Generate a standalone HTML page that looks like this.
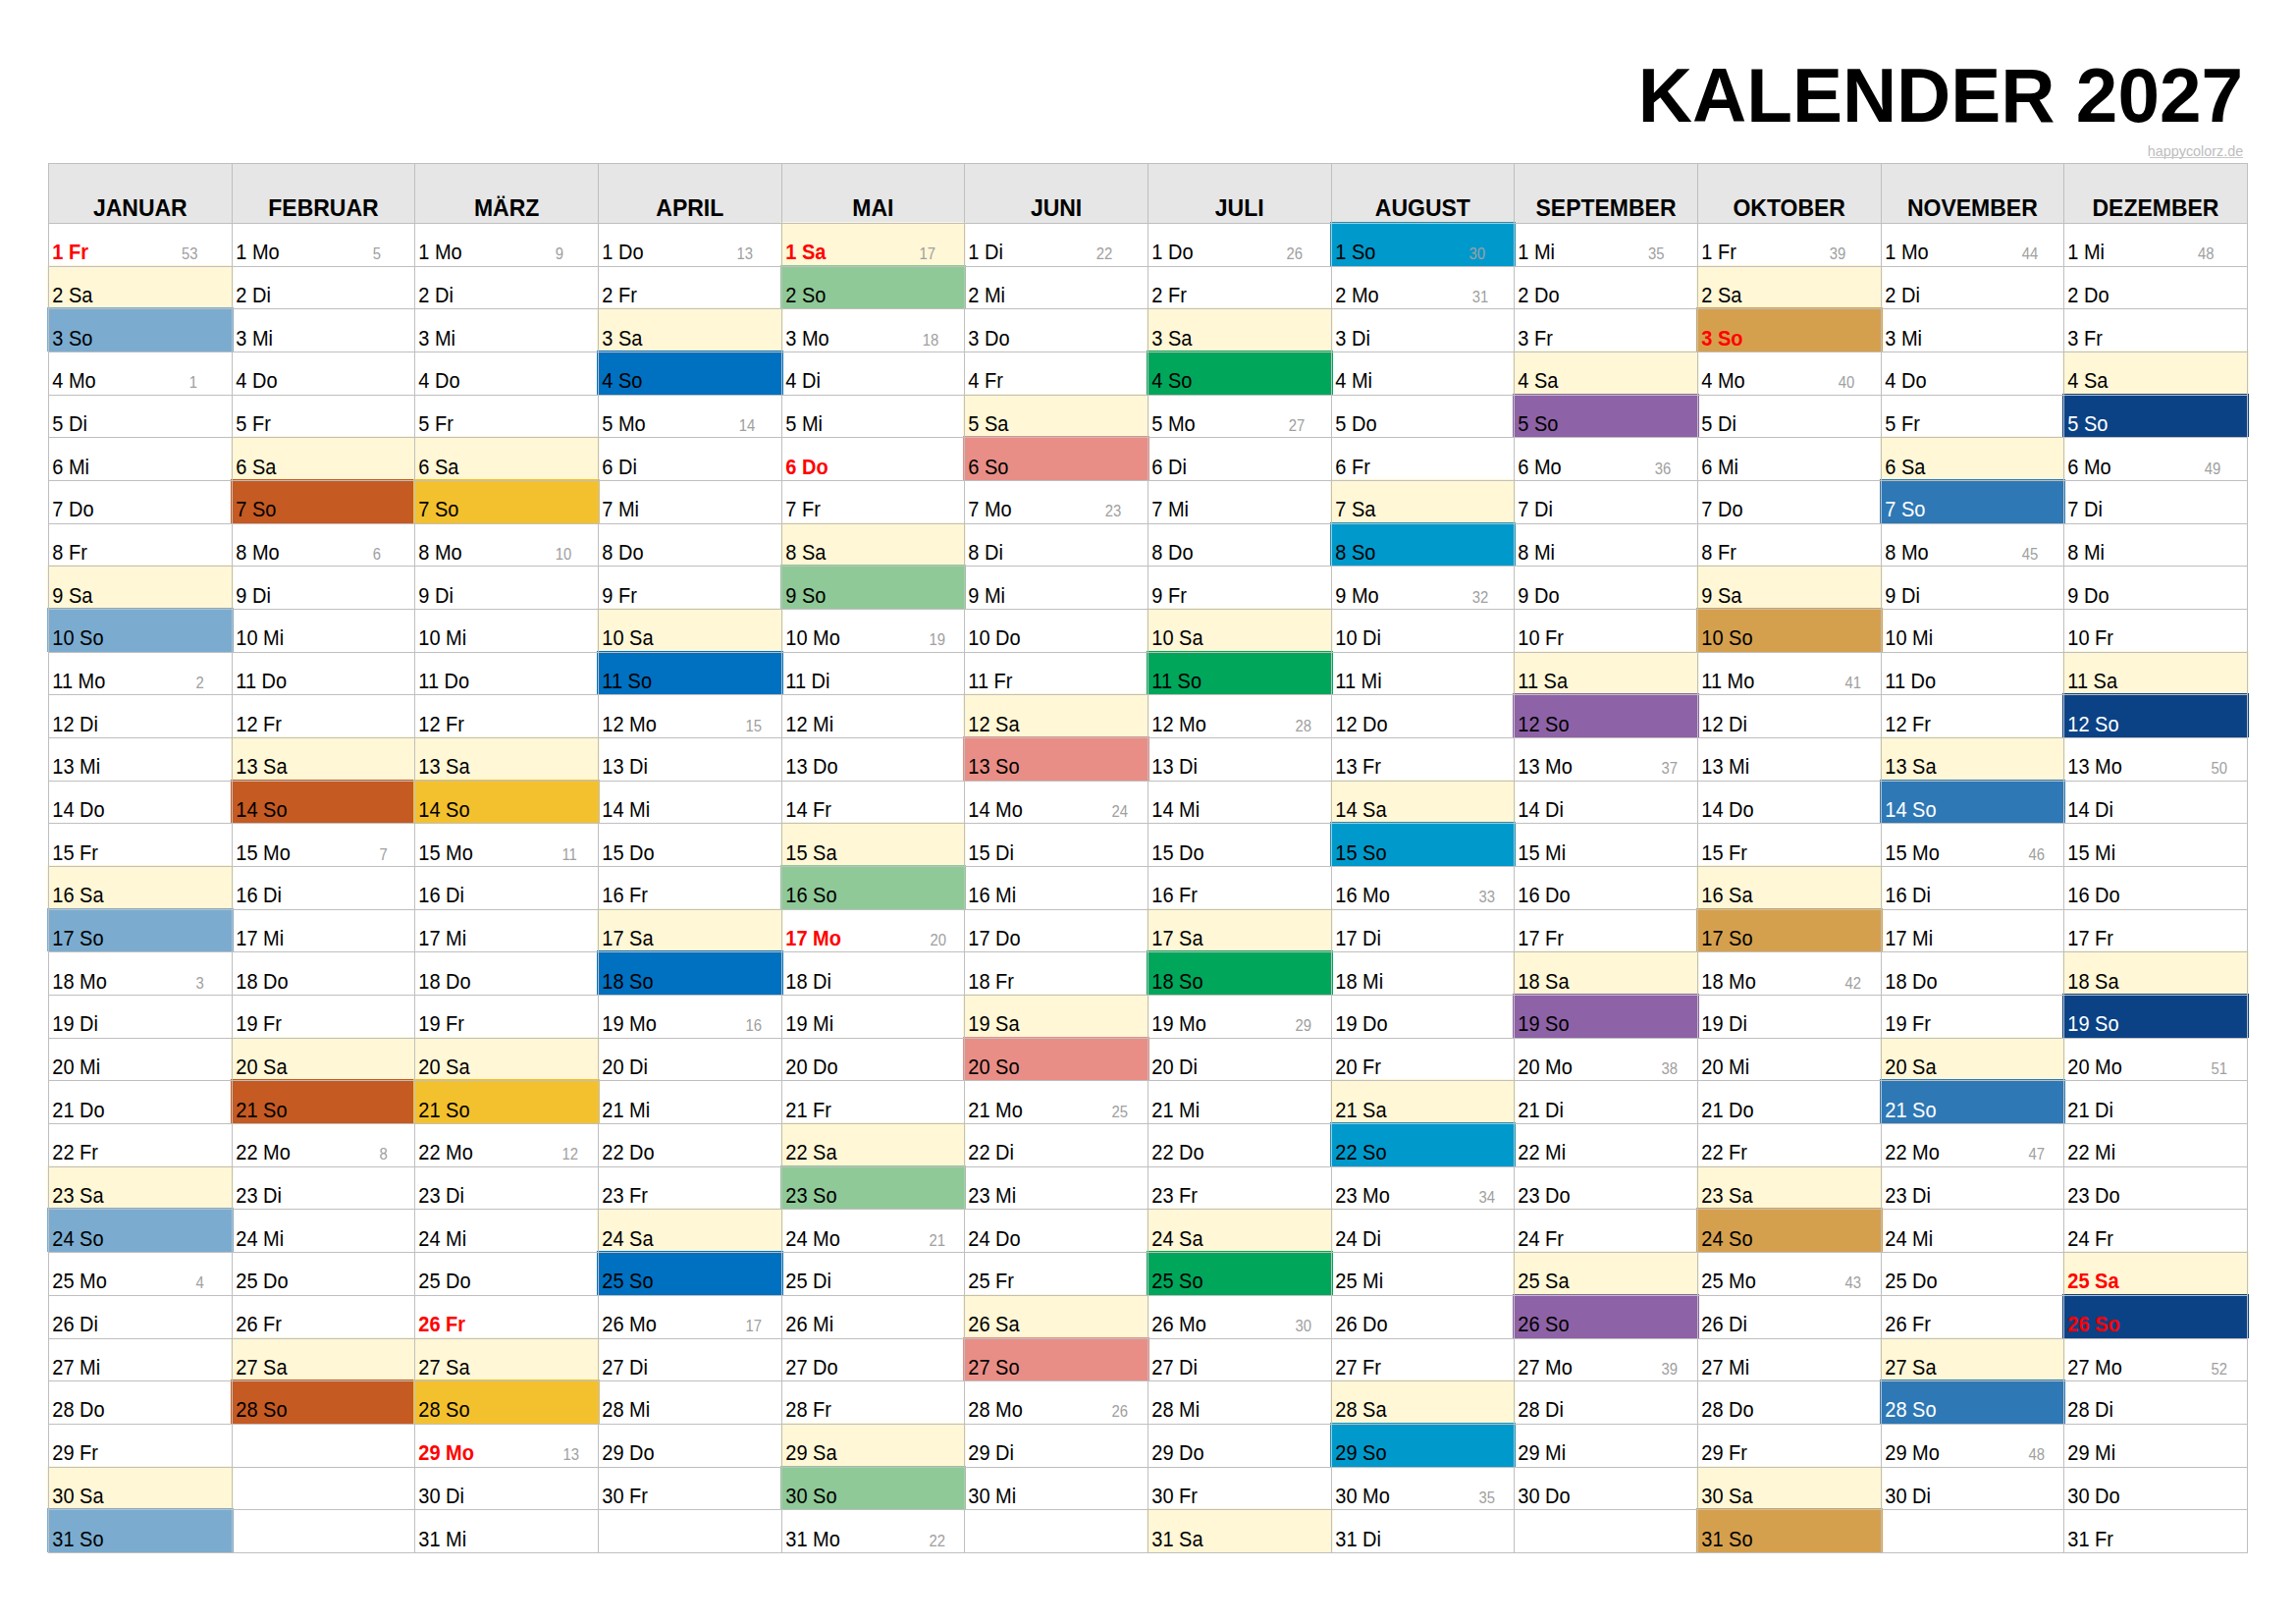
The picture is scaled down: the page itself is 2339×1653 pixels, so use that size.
<!DOCTYPE html><html><head><meta charset="utf-8"><style>html,body{margin:0;padding:0;background:#fff;width:2339px;height:1653px;overflow:hidden}svg{display:block}text{font-family:"Liberation Sans",sans-serif}</style></head><body><svg shape-rendering="crispEdges" width="2339" height="1653" viewBox="0 0 2339 1653"><text transform="translate(2285,123.8) scale(1,1.02)" text-anchor="end" font-weight="bold" font-size="76.5" fill="#000">KALENDER 2027</text><text x="2285.3" y="158.6" text-anchor="end" font-size="14.4" fill="#bdbdbd">happycolorz.de</text><rect x="2189.5" y="160" width="95.8" height="1" fill="#c8c8c8"/><rect x="49.5" y="166" width="2239.8" height="61.4" fill="#e6e6e6"/><rect x="48" y="270" width="190" height="44" fill="#fff7d6"/><rect x="48" y="313" width="190" height="45" fill="#7bacd0"/><rect x="48" y="575" width="190" height="45" fill="#fff7d6"/><rect x="48" y="619" width="190" height="45" fill="#7bacd0"/><rect x="48" y="881" width="190" height="45" fill="#fff7d6"/><rect x="48" y="925" width="190" height="44" fill="#7bacd0"/><rect x="48" y="1187" width="190" height="44" fill="#fff7d6"/><rect x="48" y="1230" width="190" height="45" fill="#7bacd0"/><rect x="48" y="1493" width="190" height="44" fill="#fff7d6"/><rect x="48" y="1536" width="190" height="45" fill="#7bacd0"/><rect x="235" y="444" width="189" height="45" fill="#fff7d6"/><rect x="235" y="488" width="189" height="45" fill="#c55a22"/><rect x="235" y="750" width="189" height="45" fill="#fff7d6"/><rect x="235" y="794" width="189" height="44" fill="#c55a22"/><rect x="235" y="1056" width="189" height="44" fill="#fff7d6"/><rect x="235" y="1099" width="189" height="45" fill="#c55a22"/><rect x="235" y="1362" width="189" height="44" fill="#fff7d6"/><rect x="235" y="1405" width="189" height="45" fill="#c55a22"/><rect x="421" y="444" width="190" height="45" fill="#fff7d6"/><rect x="421" y="488" width="190" height="45" fill="#f4c12e"/><rect x="421" y="750" width="190" height="45" fill="#fff7d6"/><rect x="421" y="794" width="190" height="44" fill="#f4c12e"/><rect x="421" y="1056" width="190" height="44" fill="#fff7d6"/><rect x="421" y="1099" width="190" height="45" fill="#f4c12e"/><rect x="421" y="1362" width="190" height="44" fill="#fff7d6"/><rect x="421" y="1405" width="190" height="45" fill="#f4c12e"/><rect x="608" y="313" width="190" height="45" fill="#fff7d6"/><rect x="608" y="357" width="190" height="45" fill="#0070c0"/><rect x="608" y="619" width="190" height="45" fill="#fff7d6"/><rect x="608" y="663" width="190" height="44" fill="#0070c0"/><rect x="608" y="925" width="190" height="44" fill="#fff7d6"/><rect x="608" y="968" width="190" height="45" fill="#0070c0"/><rect x="608" y="1230" width="190" height="45" fill="#fff7d6"/><rect x="608" y="1274" width="190" height="45" fill="#0070c0"/><rect x="795" y="226" width="189" height="45" fill="#fff7d6"/><rect x="795" y="270" width="189" height="44" fill="#8fc998"/><rect x="795" y="532" width="189" height="44" fill="#fff7d6"/><rect x="795" y="575" width="189" height="45" fill="#8fc998"/><rect x="795" y="837" width="189" height="45" fill="#fff7d6"/><rect x="795" y="881" width="189" height="45" fill="#8fc998"/><rect x="795" y="1143" width="189" height="45" fill="#fff7d6"/><rect x="795" y="1187" width="189" height="44" fill="#8fc998"/><rect x="795" y="1449" width="189" height="45" fill="#fff7d6"/><rect x="795" y="1493" width="189" height="44" fill="#8fc998"/><rect x="981" y="401" width="190" height="44" fill="#fff7d6"/><rect x="981" y="444" width="190" height="45" fill="#e88e87"/><rect x="981" y="706" width="190" height="45" fill="#fff7d6"/><rect x="981" y="750" width="190" height="45" fill="#e88e87"/><rect x="981" y="1012" width="190" height="45" fill="#fff7d6"/><rect x="981" y="1056" width="190" height="44" fill="#e88e87"/><rect x="981" y="1318" width="190" height="45" fill="#fff7d6"/><rect x="981" y="1362" width="190" height="44" fill="#e88e87"/><rect x="1168" y="313" width="190" height="45" fill="#fff7d6"/><rect x="1168" y="357" width="190" height="45" fill="#00a65a"/><rect x="1168" y="619" width="190" height="45" fill="#fff7d6"/><rect x="1168" y="663" width="190" height="44" fill="#00a65a"/><rect x="1168" y="925" width="190" height="44" fill="#fff7d6"/><rect x="1168" y="968" width="190" height="45" fill="#00a65a"/><rect x="1168" y="1230" width="190" height="45" fill="#fff7d6"/><rect x="1168" y="1274" width="190" height="45" fill="#00a65a"/><rect x="1168" y="1536" width="190" height="45" fill="#fff7d6"/><rect x="1355" y="226" width="189" height="45" fill="#0099cc"/><rect x="1355" y="488" width="189" height="45" fill="#fff7d6"/><rect x="1355" y="532" width="189" height="44" fill="#0099cc"/><rect x="1355" y="794" width="189" height="44" fill="#fff7d6"/><rect x="1355" y="837" width="189" height="45" fill="#0099cc"/><rect x="1355" y="1099" width="189" height="45" fill="#fff7d6"/><rect x="1355" y="1143" width="189" height="45" fill="#0099cc"/><rect x="1355" y="1405" width="189" height="45" fill="#fff7d6"/><rect x="1355" y="1449" width="189" height="45" fill="#0099cc"/><rect x="1541" y="357" width="190" height="45" fill="#fff7d6"/><rect x="1541" y="401" width="190" height="44" fill="#8e62a7"/><rect x="1541" y="663" width="190" height="44" fill="#fff7d6"/><rect x="1541" y="706" width="190" height="45" fill="#8e62a7"/><rect x="1541" y="968" width="190" height="45" fill="#fff7d6"/><rect x="1541" y="1012" width="190" height="45" fill="#8e62a7"/><rect x="1541" y="1274" width="190" height="45" fill="#fff7d6"/><rect x="1541" y="1318" width="190" height="45" fill="#8e62a7"/><rect x="1728" y="270" width="190" height="44" fill="#fff7d6"/><rect x="1728" y="313" width="190" height="45" fill="#d5a04e"/><rect x="1728" y="575" width="190" height="45" fill="#fff7d6"/><rect x="1728" y="619" width="190" height="45" fill="#d5a04e"/><rect x="1728" y="881" width="190" height="45" fill="#fff7d6"/><rect x="1728" y="925" width="190" height="44" fill="#d5a04e"/><rect x="1728" y="1187" width="190" height="44" fill="#fff7d6"/><rect x="1728" y="1230" width="190" height="45" fill="#d5a04e"/><rect x="1728" y="1493" width="190" height="44" fill="#fff7d6"/><rect x="1728" y="1536" width="190" height="45" fill="#d5a04e"/><rect x="1915" y="444" width="189" height="45" fill="#fff7d6"/><rect x="1915" y="488" width="189" height="45" fill="#2e78b5"/><rect x="1915" y="750" width="189" height="45" fill="#fff7d6"/><rect x="1915" y="794" width="189" height="44" fill="#2e78b5"/><rect x="1915" y="1056" width="189" height="44" fill="#fff7d6"/><rect x="1915" y="1099" width="189" height="45" fill="#2e78b5"/><rect x="1915" y="1362" width="189" height="44" fill="#fff7d6"/><rect x="1915" y="1405" width="189" height="45" fill="#2e78b5"/><rect x="2101" y="357" width="190" height="45" fill="#fff7d6"/><rect x="2101" y="401" width="190" height="44" fill="#0b4286"/><rect x="2101" y="663" width="190" height="44" fill="#fff7d6"/><rect x="2101" y="706" width="190" height="45" fill="#0b4286"/><rect x="2101" y="968" width="190" height="45" fill="#fff7d6"/><rect x="2101" y="1012" width="190" height="45" fill="#0b4286"/><rect x="2101" y="1274" width="190" height="45" fill="#fff7d6"/><rect x="2101" y="1318" width="190" height="45" fill="#0b4286"/><g fill="#bfbfbf"><rect x="49" y="166" width="1" height="1416"/><rect x="236" y="166" width="1" height="1416"/><rect x="422" y="166" width="1" height="1416"/><rect x="609" y="166" width="1" height="1416"/><rect x="796" y="166" width="1" height="1416"/><rect x="982" y="166" width="1" height="1416"/><rect x="1169" y="166" width="1" height="1416"/><rect x="1356" y="166" width="1" height="1416"/><rect x="1542" y="166" width="1" height="1416"/><rect x="1729" y="166" width="1" height="1416"/><rect x="1916" y="166" width="1" height="1416"/><rect x="2102" y="166" width="1" height="1416"/><rect x="2289" y="166" width="1" height="1416"/><rect x="49" y="166" width="2241" height="1"/><rect x="49" y="227" width="2241" height="1"/><rect x="49" y="271" width="2241" height="1"/><rect x="49" y="314" width="2241" height="1"/><rect x="49" y="358" width="2241" height="1"/><rect x="49" y="402" width="2241" height="1"/><rect x="49" y="445" width="2241" height="1"/><rect x="49" y="489" width="2241" height="1"/><rect x="49" y="533" width="2241" height="1"/><rect x="49" y="576" width="2241" height="1"/><rect x="49" y="620" width="2241" height="1"/><rect x="49" y="664" width="2241" height="1"/><rect x="49" y="707" width="2241" height="1"/><rect x="49" y="751" width="2241" height="1"/><rect x="49" y="795" width="2241" height="1"/><rect x="49" y="838" width="2241" height="1"/><rect x="49" y="882" width="2241" height="1"/><rect x="49" y="926" width="2241" height="1"/><rect x="49" y="969" width="2241" height="1"/><rect x="49" y="1013" width="2241" height="1"/><rect x="49" y="1057" width="2241" height="1"/><rect x="49" y="1100" width="2241" height="1"/><rect x="49" y="1144" width="2241" height="1"/><rect x="49" y="1188" width="2241" height="1"/><rect x="49" y="1231" width="2241" height="1"/><rect x="49" y="1275" width="2241" height="1"/><rect x="49" y="1319" width="2241" height="1"/><rect x="49" y="1363" width="2241" height="1"/><rect x="49" y="1406" width="2241" height="1"/><rect x="49" y="1450" width="2241" height="1"/><rect x="49" y="1494" width="2241" height="1"/><rect x="49" y="1537" width="2241" height="1"/><rect x="49" y="1581" width="2241" height="1"/></g><text transform="translate(142.82,220) scale(1,1.07)" text-anchor="middle" font-weight="bold" font-size="23.0">JANUAR</text><text transform="translate(329.48,220) scale(1,1.07)" text-anchor="middle" font-weight="bold" font-size="23.0">FEBRUAR</text><text transform="translate(516.12,220) scale(1,1.07)" text-anchor="middle" font-weight="bold" font-size="23.0">MÄRZ</text><text transform="translate(702.78,220) scale(1,1.07)" text-anchor="middle" font-weight="bold" font-size="23.0">APRIL</text><text transform="translate(889.43,220) scale(1,1.07)" text-anchor="middle" font-weight="bold" font-size="23.0">MAI</text><text transform="translate(1076.08,220) scale(1,1.07)" text-anchor="middle" font-weight="bold" font-size="23.0">JUNI</text><text transform="translate(1262.73,220) scale(1,1.07)" text-anchor="middle" font-weight="bold" font-size="23.0">JULI</text><text transform="translate(1449.38,220) scale(1,1.07)" text-anchor="middle" font-weight="bold" font-size="23.0">AUGUST</text><text transform="translate(1636.03,220) scale(1,1.07)" text-anchor="middle" font-weight="bold" font-size="23.0">SEPTEMBER</text><text transform="translate(1822.68,220) scale(1,1.07)" text-anchor="middle" font-weight="bold" font-size="23.0">OKTOBER</text><text transform="translate(2009.33,220) scale(1,1.07)" text-anchor="middle" font-weight="bold" font-size="23.0">NOVEMBER</text><text transform="translate(2195.97,220) scale(1,1.07)" text-anchor="middle" font-weight="bold" font-size="23.0">DEZEMBER</text><text transform="translate(53.3,264.18) scale(1,1.08)" font-size="20.0" font-weight="bold" fill="#f00">1 Fr</text><text transform="translate(184.98,264.18) scale(0.9,1.0)" font-size="16.5" fill="#a0a0a0">53</text><text transform="translate(53.3,307.85) scale(1,1.08)" font-size="20.0">2 Sa</text><text transform="translate(53.3,351.53) scale(1,1.08)" font-size="20.0">3 So</text><text transform="translate(53.3,395.21) scale(1,1.08)" font-size="20.0">4 Mo</text><text transform="translate(192.76,395.21) scale(0.9,1.0)" font-size="16.5" fill="#a0a0a0">1</text><text transform="translate(53.3,438.89) scale(1,1.08)" font-size="20.0">5 Di</text><text transform="translate(53.3,482.56) scale(1,1.08)" font-size="20.0">6 Mi</text><text transform="translate(53.3,526.24) scale(1,1.08)" font-size="20.0">7 Do</text><text transform="translate(53.3,569.92) scale(1,1.08)" font-size="20.0">8 Fr</text><text transform="translate(53.3,613.6) scale(1,1.08)" font-size="20.0">9 Sa</text><text transform="translate(53.3,657.27) scale(1,1.08)" font-size="20.0">10 So</text><text transform="translate(53.3,700.95) scale(1,1.08)" font-size="20.0">11 Mo</text><text transform="translate(199.39,700.95) scale(0.9,1.0)" font-size="16.5" fill="#a0a0a0">2</text><text transform="translate(53.3,744.63) scale(1,1.08)" font-size="20.0">12 Di</text><text transform="translate(53.3,788.31) scale(1,1.08)" font-size="20.0">13 Mi</text><text transform="translate(53.3,831.98) scale(1,1.08)" font-size="20.0">14 Do</text><text transform="translate(53.3,875.66) scale(1,1.08)" font-size="20.0">15 Fr</text><text transform="translate(53.3,919.34) scale(1,1.08)" font-size="20.0">16 Sa</text><text transform="translate(53.3,963.02) scale(1,1.08)" font-size="20.0">17 So</text><text transform="translate(53.3,1006.69) scale(1,1.08)" font-size="20.0">18 Mo</text><text transform="translate(199.39,1006.69) scale(0.9,1.0)" font-size="16.5" fill="#a0a0a0">3</text><text transform="translate(53.3,1050.37) scale(1,1.08)" font-size="20.0">19 Di</text><text transform="translate(53.3,1094.05) scale(1,1.08)" font-size="20.0">20 Mi</text><text transform="translate(53.3,1137.73) scale(1,1.08)" font-size="20.0">21 Do</text><text transform="translate(53.3,1181.4) scale(1,1.08)" font-size="20.0">22 Fr</text><text transform="translate(53.3,1225.08) scale(1,1.08)" font-size="20.0">23 Sa</text><text transform="translate(53.3,1268.76) scale(1,1.08)" font-size="20.0">24 So</text><text transform="translate(53.3,1312.44) scale(1,1.08)" font-size="20.0">25 Mo</text><text transform="translate(199.39,1312.44) scale(0.9,1.0)" font-size="16.5" fill="#a0a0a0">4</text><text transform="translate(53.3,1356.11) scale(1,1.08)" font-size="20.0">26 Di</text><text transform="translate(53.3,1399.79) scale(1,1.08)" font-size="20.0">27 Mi</text><text transform="translate(53.3,1443.47) scale(1,1.08)" font-size="20.0">28 Do</text><text transform="translate(53.3,1487.15) scale(1,1.08)" font-size="20.0">29 Fr</text><text transform="translate(53.3,1530.82) scale(1,1.08)" font-size="20.0">30 Sa</text><text transform="translate(53.3,1574.5) scale(1,1.08)" font-size="20.0">31 So</text><text transform="translate(240.3,264.18) scale(1,1.08)" font-size="20.0">1 Mo</text><text transform="translate(379.76,264.18) scale(0.9,1.0)" font-size="16.5" fill="#a0a0a0">5</text><text transform="translate(240.3,307.85) scale(1,1.08)" font-size="20.0">2 Di</text><text transform="translate(240.3,351.53) scale(1,1.08)" font-size="20.0">3 Mi</text><text transform="translate(240.3,395.21) scale(1,1.08)" font-size="20.0">4 Do</text><text transform="translate(240.3,438.89) scale(1,1.08)" font-size="20.0">5 Fr</text><text transform="translate(240.3,482.56) scale(1,1.08)" font-size="20.0">6 Sa</text><text transform="translate(240.3,526.24) scale(1,1.08)" font-size="20.0">7 So</text><text transform="translate(240.3,569.92) scale(1,1.08)" font-size="20.0">8 Mo</text><text transform="translate(379.76,569.92) scale(0.9,1.0)" font-size="16.5" fill="#a0a0a0">6</text><text transform="translate(240.3,613.6) scale(1,1.08)" font-size="20.0">9 Di</text><text transform="translate(240.3,657.27) scale(1,1.08)" font-size="20.0">10 Mi</text><text transform="translate(240.3,700.95) scale(1,1.08)" font-size="20.0">11 Do</text><text transform="translate(240.3,744.63) scale(1,1.08)" font-size="20.0">12 Fr</text><text transform="translate(240.3,788.31) scale(1,1.08)" font-size="20.0">13 Sa</text><text transform="translate(240.3,831.98) scale(1,1.08)" font-size="20.0">14 So</text><text transform="translate(240.3,875.66) scale(1,1.08)" font-size="20.0">15 Mo</text><text transform="translate(386.39,875.66) scale(0.9,1.0)" font-size="16.5" fill="#a0a0a0">7</text><text transform="translate(240.3,919.34) scale(1,1.08)" font-size="20.0">16 Di</text><text transform="translate(240.3,963.02) scale(1,1.08)" font-size="20.0">17 Mi</text><text transform="translate(240.3,1006.69) scale(1,1.08)" font-size="20.0">18 Do</text><text transform="translate(240.3,1050.37) scale(1,1.08)" font-size="20.0">19 Fr</text><text transform="translate(240.3,1094.05) scale(1,1.08)" font-size="20.0">20 Sa</text><text transform="translate(240.3,1137.73) scale(1,1.08)" font-size="20.0">21 So</text><text transform="translate(240.3,1181.4) scale(1,1.08)" font-size="20.0">22 Mo</text><text transform="translate(386.39,1181.4) scale(0.9,1.0)" font-size="16.5" fill="#a0a0a0">8</text><text transform="translate(240.3,1225.08) scale(1,1.08)" font-size="20.0">23 Di</text><text transform="translate(240.3,1268.76) scale(1,1.08)" font-size="20.0">24 Mi</text><text transform="translate(240.3,1312.44) scale(1,1.08)" font-size="20.0">25 Do</text><text transform="translate(240.3,1356.11) scale(1,1.08)" font-size="20.0">26 Fr</text><text transform="translate(240.3,1399.79) scale(1,1.08)" font-size="20.0">27 Sa</text><text transform="translate(240.3,1443.47) scale(1,1.08)" font-size="20.0">28 So</text><text transform="translate(426.3,264.18) scale(1,1.08)" font-size="20.0">1 Mo</text><text transform="translate(565.76,264.18) scale(0.9,1.0)" font-size="16.5" fill="#a0a0a0">9</text><text transform="translate(426.3,307.85) scale(1,1.08)" font-size="20.0">2 Di</text><text transform="translate(426.3,351.53) scale(1,1.08)" font-size="20.0">3 Mi</text><text transform="translate(426.3,395.21) scale(1,1.08)" font-size="20.0">4 Do</text><text transform="translate(426.3,438.89) scale(1,1.08)" font-size="20.0">5 Fr</text><text transform="translate(426.3,482.56) scale(1,1.08)" font-size="20.0">6 Sa</text><text transform="translate(426.3,526.24) scale(1,1.08)" font-size="20.0">7 So</text><text transform="translate(426.3,569.92) scale(1,1.08)" font-size="20.0">8 Mo</text><text transform="translate(565.76,569.92) scale(0.9,1.0)" font-size="16.5" fill="#a0a0a0">10</text><text transform="translate(426.3,613.6) scale(1,1.08)" font-size="20.0">9 Di</text><text transform="translate(426.3,657.27) scale(1,1.08)" font-size="20.0">10 Mi</text><text transform="translate(426.3,700.95) scale(1,1.08)" font-size="20.0">11 Do</text><text transform="translate(426.3,744.63) scale(1,1.08)" font-size="20.0">12 Fr</text><text transform="translate(426.3,788.31) scale(1,1.08)" font-size="20.0">13 Sa</text><text transform="translate(426.3,831.98) scale(1,1.08)" font-size="20.0">14 So</text><text transform="translate(426.3,875.66) scale(1,1.08)" font-size="20.0">15 Mo</text><text transform="translate(572.39,875.66) scale(0.9,1.0)" font-size="16.5" fill="#a0a0a0">11</text><text transform="translate(426.3,919.34) scale(1,1.08)" font-size="20.0">16 Di</text><text transform="translate(426.3,963.02) scale(1,1.08)" font-size="20.0">17 Mi</text><text transform="translate(426.3,1006.69) scale(1,1.08)" font-size="20.0">18 Do</text><text transform="translate(426.3,1050.37) scale(1,1.08)" font-size="20.0">19 Fr</text><text transform="translate(426.3,1094.05) scale(1,1.08)" font-size="20.0">20 Sa</text><text transform="translate(426.3,1137.73) scale(1,1.08)" font-size="20.0">21 So</text><text transform="translate(426.3,1181.4) scale(1,1.08)" font-size="20.0">22 Mo</text><text transform="translate(572.39,1181.4) scale(0.9,1.0)" font-size="16.5" fill="#a0a0a0">12</text><text transform="translate(426.3,1225.08) scale(1,1.08)" font-size="20.0">23 Di</text><text transform="translate(426.3,1268.76) scale(1,1.08)" font-size="20.0">24 Mi</text><text transform="translate(426.3,1312.44) scale(1,1.08)" font-size="20.0">25 Do</text><text transform="translate(426.3,1356.11) scale(1,1.08)" font-size="20.0" font-weight="bold" fill="#f00">26 Fr</text><text transform="translate(426.3,1399.79) scale(1,1.08)" font-size="20.0">27 Sa</text><text transform="translate(426.3,1443.47) scale(1,1.08)" font-size="20.0">28 So</text><text transform="translate(426.3,1487.15) scale(1,1.08)" font-size="20.0" font-weight="bold" fill="#f00">29 Mo</text><text transform="translate(573.48,1487.15) scale(0.9,1.0)" font-size="16.5" fill="#a0a0a0">13</text><text transform="translate(426.3,1530.82) scale(1,1.08)" font-size="20.0">30 Di</text><text transform="translate(426.3,1574.5) scale(1,1.08)" font-size="20.0">31 Mi</text><text transform="translate(613.3,264.18) scale(1,1.08)" font-size="20.0">1 Do</text><text transform="translate(750.55,264.18) scale(0.9,1.0)" font-size="16.5" fill="#a0a0a0">13</text><text transform="translate(613.3,307.85) scale(1,1.08)" font-size="20.0">2 Fr</text><text transform="translate(613.3,351.53) scale(1,1.08)" font-size="20.0">3 Sa</text><text transform="translate(613.3,395.21) scale(1,1.08)" font-size="20.0">4 So</text><text transform="translate(613.3,438.89) scale(1,1.08)" font-size="20.0">5 Mo</text><text transform="translate(752.76,438.89) scale(0.9,1.0)" font-size="16.5" fill="#a0a0a0">14</text><text transform="translate(613.3,482.56) scale(1,1.08)" font-size="20.0">6 Di</text><text transform="translate(613.3,526.24) scale(1,1.08)" font-size="20.0">7 Mi</text><text transform="translate(613.3,569.92) scale(1,1.08)" font-size="20.0">8 Do</text><text transform="translate(613.3,613.6) scale(1,1.08)" font-size="20.0">9 Fr</text><text transform="translate(613.3,657.27) scale(1,1.08)" font-size="20.0">10 Sa</text><text transform="translate(613.3,700.95) scale(1,1.08)" font-size="20.0">11 So</text><text transform="translate(613.3,744.63) scale(1,1.08)" font-size="20.0">12 Mo</text><text transform="translate(759.39,744.63) scale(0.9,1.0)" font-size="16.5" fill="#a0a0a0">15</text><text transform="translate(613.3,788.31) scale(1,1.08)" font-size="20.0">13 Di</text><text transform="translate(613.3,831.98) scale(1,1.08)" font-size="20.0">14 Mi</text><text transform="translate(613.3,875.66) scale(1,1.08)" font-size="20.0">15 Do</text><text transform="translate(613.3,919.34) scale(1,1.08)" font-size="20.0">16 Fr</text><text transform="translate(613.3,963.02) scale(1,1.08)" font-size="20.0">17 Sa</text><text transform="translate(613.3,1006.69) scale(1,1.08)" font-size="20.0">18 So</text><text transform="translate(613.3,1050.37) scale(1,1.08)" font-size="20.0">19 Mo</text><text transform="translate(759.39,1050.37) scale(0.9,1.0)" font-size="16.5" fill="#a0a0a0">16</text><text transform="translate(613.3,1094.05) scale(1,1.08)" font-size="20.0">20 Di</text><text transform="translate(613.3,1137.73) scale(1,1.08)" font-size="20.0">21 Mi</text><text transform="translate(613.3,1181.4) scale(1,1.08)" font-size="20.0">22 Do</text><text transform="translate(613.3,1225.08) scale(1,1.08)" font-size="20.0">23 Fr</text><text transform="translate(613.3,1268.76) scale(1,1.08)" font-size="20.0">24 Sa</text><text transform="translate(613.3,1312.44) scale(1,1.08)" font-size="20.0">25 So</text><text transform="translate(613.3,1356.11) scale(1,1.08)" font-size="20.0">26 Mo</text><text transform="translate(759.39,1356.11) scale(0.9,1.0)" font-size="16.5" fill="#a0a0a0">17</text><text transform="translate(613.3,1399.79) scale(1,1.08)" font-size="20.0">27 Di</text><text transform="translate(613.3,1443.47) scale(1,1.08)" font-size="20.0">28 Mi</text><text transform="translate(613.3,1487.15) scale(1,1.08)" font-size="20.0">29 Do</text><text transform="translate(613.3,1530.82) scale(1,1.08)" font-size="20.0">30 Fr</text><text transform="translate(800.3,264.18) scale(1,1.08)" font-size="20.0" font-weight="bold" fill="#f00">1 Sa</text><text transform="translate(936.44,264.18) scale(0.9,1.0)" font-size="16.5" fill="#a0a0a0">17</text><text transform="translate(800.3,307.85) scale(1,1.08)" font-size="20.0">2 So</text><text transform="translate(800.3,351.53) scale(1,1.08)" font-size="20.0">3 Mo</text><text transform="translate(939.76,351.53) scale(0.9,1.0)" font-size="16.5" fill="#a0a0a0">18</text><text transform="translate(800.3,395.21) scale(1,1.08)" font-size="20.0">4 Di</text><text transform="translate(800.3,438.89) scale(1,1.08)" font-size="20.0">5 Mi</text><text transform="translate(800.3,482.56) scale(1,1.08)" font-size="20.0" font-weight="bold" fill="#f00">6 Do</text><text transform="translate(800.3,526.24) scale(1,1.08)" font-size="20.0">7 Fr</text><text transform="translate(800.3,569.92) scale(1,1.08)" font-size="20.0">8 Sa</text><text transform="translate(800.3,613.6) scale(1,1.08)" font-size="20.0">9 So</text><text transform="translate(800.3,657.27) scale(1,1.08)" font-size="20.0">10 Mo</text><text transform="translate(946.39,657.27) scale(0.9,1.0)" font-size="16.5" fill="#a0a0a0">19</text><text transform="translate(800.3,700.95) scale(1,1.08)" font-size="20.0">11 Di</text><text transform="translate(800.3,744.63) scale(1,1.08)" font-size="20.0">12 Mi</text><text transform="translate(800.3,788.31) scale(1,1.08)" font-size="20.0">13 Do</text><text transform="translate(800.3,831.98) scale(1,1.08)" font-size="20.0">14 Fr</text><text transform="translate(800.3,875.66) scale(1,1.08)" font-size="20.0">15 Sa</text><text transform="translate(800.3,919.34) scale(1,1.08)" font-size="20.0">16 So</text><text transform="translate(800.3,963.02) scale(1,1.08)" font-size="20.0" font-weight="bold" fill="#f00">17 Mo</text><text transform="translate(947.48,963.02) scale(0.9,1.0)" font-size="16.5" fill="#a0a0a0">20</text><text transform="translate(800.3,1006.69) scale(1,1.08)" font-size="20.0">18 Di</text><text transform="translate(800.3,1050.37) scale(1,1.08)" font-size="20.0">19 Mi</text><text transform="translate(800.3,1094.05) scale(1,1.08)" font-size="20.0">20 Do</text><text transform="translate(800.3,1137.73) scale(1,1.08)" font-size="20.0">21 Fr</text><text transform="translate(800.3,1181.4) scale(1,1.08)" font-size="20.0">22 Sa</text><text transform="translate(800.3,1225.08) scale(1,1.08)" font-size="20.0">23 So</text><text transform="translate(800.3,1268.76) scale(1,1.08)" font-size="20.0">24 Mo</text><text transform="translate(946.39,1268.76) scale(0.9,1.0)" font-size="16.5" fill="#a0a0a0">21</text><text transform="translate(800.3,1312.44) scale(1,1.08)" font-size="20.0">25 Di</text><text transform="translate(800.3,1356.11) scale(1,1.08)" font-size="20.0">26 Mi</text><text transform="translate(800.3,1399.79) scale(1,1.08)" font-size="20.0">27 Do</text><text transform="translate(800.3,1443.47) scale(1,1.08)" font-size="20.0">28 Fr</text><text transform="translate(800.3,1487.15) scale(1,1.08)" font-size="20.0">29 Sa</text><text transform="translate(800.3,1530.82) scale(1,1.08)" font-size="20.0">30 So</text><text transform="translate(800.3,1574.5) scale(1,1.08)" font-size="20.0">31 Mo</text><text transform="translate(946.39,1574.5) scale(0.9,1.0)" font-size="16.5" fill="#a0a0a0">22</text><text transform="translate(986.3,264.18) scale(1,1.08)" font-size="20.0">1 Di</text><text transform="translate(1116.87,264.18) scale(0.9,1.0)" font-size="16.5" fill="#a0a0a0">22</text><text transform="translate(986.3,307.85) scale(1,1.08)" font-size="20.0">2 Mi</text><text transform="translate(986.3,351.53) scale(1,1.08)" font-size="20.0">3 Do</text><text transform="translate(986.3,395.21) scale(1,1.08)" font-size="20.0">4 Fr</text><text transform="translate(986.3,438.89) scale(1,1.08)" font-size="20.0">5 Sa</text><text transform="translate(986.3,482.56) scale(1,1.08)" font-size="20.0">6 So</text><text transform="translate(986.3,526.24) scale(1,1.08)" font-size="20.0">7 Mo</text><text transform="translate(1125.76,526.24) scale(0.9,1.0)" font-size="16.5" fill="#a0a0a0">23</text><text transform="translate(986.3,569.92) scale(1,1.08)" font-size="20.0">8 Di</text><text transform="translate(986.3,613.6) scale(1,1.08)" font-size="20.0">9 Mi</text><text transform="translate(986.3,657.27) scale(1,1.08)" font-size="20.0">10 Do</text><text transform="translate(986.3,700.95) scale(1,1.08)" font-size="20.0">11 Fr</text><text transform="translate(986.3,744.63) scale(1,1.08)" font-size="20.0">12 Sa</text><text transform="translate(986.3,788.31) scale(1,1.08)" font-size="20.0">13 So</text><text transform="translate(986.3,831.98) scale(1,1.08)" font-size="20.0">14 Mo</text><text transform="translate(1132.39,831.98) scale(0.9,1.0)" font-size="16.5" fill="#a0a0a0">24</text><text transform="translate(986.3,875.66) scale(1,1.08)" font-size="20.0">15 Di</text><text transform="translate(986.3,919.34) scale(1,1.08)" font-size="20.0">16 Mi</text><text transform="translate(986.3,963.02) scale(1,1.08)" font-size="20.0">17 Do</text><text transform="translate(986.3,1006.69) scale(1,1.08)" font-size="20.0">18 Fr</text><text transform="translate(986.3,1050.37) scale(1,1.08)" font-size="20.0">19 Sa</text><text transform="translate(986.3,1094.05) scale(1,1.08)" font-size="20.0">20 So</text><text transform="translate(986.3,1137.73) scale(1,1.08)" font-size="20.0">21 Mo</text><text transform="translate(1132.39,1137.73) scale(0.9,1.0)" font-size="16.5" fill="#a0a0a0">25</text><text transform="translate(986.3,1181.4) scale(1,1.08)" font-size="20.0">22 Di</text><text transform="translate(986.3,1225.08) scale(1,1.08)" font-size="20.0">23 Mi</text><text transform="translate(986.3,1268.76) scale(1,1.08)" font-size="20.0">24 Do</text><text transform="translate(986.3,1312.44) scale(1,1.08)" font-size="20.0">25 Fr</text><text transform="translate(986.3,1356.11) scale(1,1.08)" font-size="20.0">26 Sa</text><text transform="translate(986.3,1399.79) scale(1,1.08)" font-size="20.0">27 So</text><text transform="translate(986.3,1443.47) scale(1,1.08)" font-size="20.0">28 Mo</text><text transform="translate(1132.39,1443.47) scale(0.9,1.0)" font-size="16.5" fill="#a0a0a0">26</text><text transform="translate(986.3,1487.15) scale(1,1.08)" font-size="20.0">29 Di</text><text transform="translate(986.3,1530.82) scale(1,1.08)" font-size="20.0">30 Mi</text><text transform="translate(1173.3,264.18) scale(1,1.08)" font-size="20.0">1 Do</text><text transform="translate(1310.55,264.18) scale(0.9,1.0)" font-size="16.5" fill="#a0a0a0">26</text><text transform="translate(1173.3,307.85) scale(1,1.08)" font-size="20.0">2 Fr</text><text transform="translate(1173.3,351.53) scale(1,1.08)" font-size="20.0">3 Sa</text><text transform="translate(1173.3,395.21) scale(1,1.08)" font-size="20.0">4 So</text><text transform="translate(1173.3,438.89) scale(1,1.08)" font-size="20.0">5 Mo</text><text transform="translate(1312.76,438.89) scale(0.9,1.0)" font-size="16.5" fill="#a0a0a0">27</text><text transform="translate(1173.3,482.56) scale(1,1.08)" font-size="20.0">6 Di</text><text transform="translate(1173.3,526.24) scale(1,1.08)" font-size="20.0">7 Mi</text><text transform="translate(1173.3,569.92) scale(1,1.08)" font-size="20.0">8 Do</text><text transform="translate(1173.3,613.6) scale(1,1.08)" font-size="20.0">9 Fr</text><text transform="translate(1173.3,657.27) scale(1,1.08)" font-size="20.0">10 Sa</text><text transform="translate(1173.3,700.95) scale(1,1.08)" font-size="20.0">11 So</text><text transform="translate(1173.3,744.63) scale(1,1.08)" font-size="20.0">12 Mo</text><text transform="translate(1319.39,744.63) scale(0.9,1.0)" font-size="16.5" fill="#a0a0a0">28</text><text transform="translate(1173.3,788.31) scale(1,1.08)" font-size="20.0">13 Di</text><text transform="translate(1173.3,831.98) scale(1,1.08)" font-size="20.0">14 Mi</text><text transform="translate(1173.3,875.66) scale(1,1.08)" font-size="20.0">15 Do</text><text transform="translate(1173.3,919.34) scale(1,1.08)" font-size="20.0">16 Fr</text><text transform="translate(1173.3,963.02) scale(1,1.08)" font-size="20.0">17 Sa</text><text transform="translate(1173.3,1006.69) scale(1,1.08)" font-size="20.0">18 So</text><text transform="translate(1173.3,1050.37) scale(1,1.08)" font-size="20.0">19 Mo</text><text transform="translate(1319.39,1050.37) scale(0.9,1.0)" font-size="16.5" fill="#a0a0a0">29</text><text transform="translate(1173.3,1094.05) scale(1,1.08)" font-size="20.0">20 Di</text><text transform="translate(1173.3,1137.73) scale(1,1.08)" font-size="20.0">21 Mi</text><text transform="translate(1173.3,1181.4) scale(1,1.08)" font-size="20.0">22 Do</text><text transform="translate(1173.3,1225.08) scale(1,1.08)" font-size="20.0">23 Fr</text><text transform="translate(1173.3,1268.76) scale(1,1.08)" font-size="20.0">24 Sa</text><text transform="translate(1173.3,1312.44) scale(1,1.08)" font-size="20.0">25 So</text><text transform="translate(1173.3,1356.11) scale(1,1.08)" font-size="20.0">26 Mo</text><text transform="translate(1319.39,1356.11) scale(0.9,1.0)" font-size="16.5" fill="#a0a0a0">30</text><text transform="translate(1173.3,1399.79) scale(1,1.08)" font-size="20.0">27 Di</text><text transform="translate(1173.3,1443.47) scale(1,1.08)" font-size="20.0">28 Mi</text><text transform="translate(1173.3,1487.15) scale(1,1.08)" font-size="20.0">29 Do</text><text transform="translate(1173.3,1530.82) scale(1,1.08)" font-size="20.0">30 Fr</text><text transform="translate(1173.3,1574.5) scale(1,1.08)" font-size="20.0">31 Sa</text><text transform="translate(1360.3,264.18) scale(1,1.08)" font-size="20.0">1 So</text><text transform="translate(1496.44,264.18) scale(0.9,1.0)" font-size="16.5" fill="#a0a0a0">30</text><text transform="translate(1360.3,307.85) scale(1,1.08)" font-size="20.0">2 Mo</text><text transform="translate(1499.76,307.85) scale(0.9,1.0)" font-size="16.5" fill="#a0a0a0">31</text><text transform="translate(1360.3,351.53) scale(1,1.08)" font-size="20.0">3 Di</text><text transform="translate(1360.3,395.21) scale(1,1.08)" font-size="20.0">4 Mi</text><text transform="translate(1360.3,438.89) scale(1,1.08)" font-size="20.0">5 Do</text><text transform="translate(1360.3,482.56) scale(1,1.08)" font-size="20.0">6 Fr</text><text transform="translate(1360.3,526.24) scale(1,1.08)" font-size="20.0">7 Sa</text><text transform="translate(1360.3,569.92) scale(1,1.08)" font-size="20.0">8 So</text><text transform="translate(1360.3,613.6) scale(1,1.08)" font-size="20.0">9 Mo</text><text transform="translate(1499.76,613.6) scale(0.9,1.0)" font-size="16.5" fill="#a0a0a0">32</text><text transform="translate(1360.3,657.27) scale(1,1.08)" font-size="20.0">10 Di</text><text transform="translate(1360.3,700.95) scale(1,1.08)" font-size="20.0">11 Mi</text><text transform="translate(1360.3,744.63) scale(1,1.08)" font-size="20.0">12 Do</text><text transform="translate(1360.3,788.31) scale(1,1.08)" font-size="20.0">13 Fr</text><text transform="translate(1360.3,831.98) scale(1,1.08)" font-size="20.0">14 Sa</text><text transform="translate(1360.3,875.66) scale(1,1.08)" font-size="20.0">15 So</text><text transform="translate(1360.3,919.34) scale(1,1.08)" font-size="20.0">16 Mo</text><text transform="translate(1506.39,919.34) scale(0.9,1.0)" font-size="16.5" fill="#a0a0a0">33</text><text transform="translate(1360.3,963.02) scale(1,1.08)" font-size="20.0">17 Di</text><text transform="translate(1360.3,1006.69) scale(1,1.08)" font-size="20.0">18 Mi</text><text transform="translate(1360.3,1050.37) scale(1,1.08)" font-size="20.0">19 Do</text><text transform="translate(1360.3,1094.05) scale(1,1.08)" font-size="20.0">20 Fr</text><text transform="translate(1360.3,1137.73) scale(1,1.08)" font-size="20.0">21 Sa</text><text transform="translate(1360.3,1181.4) scale(1,1.08)" font-size="20.0">22 So</text><text transform="translate(1360.3,1225.08) scale(1,1.08)" font-size="20.0">23 Mo</text><text transform="translate(1506.39,1225.08) scale(0.9,1.0)" font-size="16.5" fill="#a0a0a0">34</text><text transform="translate(1360.3,1268.76) scale(1,1.08)" font-size="20.0">24 Di</text><text transform="translate(1360.3,1312.44) scale(1,1.08)" font-size="20.0">25 Mi</text><text transform="translate(1360.3,1356.11) scale(1,1.08)" font-size="20.0">26 Do</text><text transform="translate(1360.3,1399.79) scale(1,1.08)" font-size="20.0">27 Fr</text><text transform="translate(1360.3,1443.47) scale(1,1.08)" font-size="20.0">28 Sa</text><text transform="translate(1360.3,1487.15) scale(1,1.08)" font-size="20.0">29 So</text><text transform="translate(1360.3,1530.82) scale(1,1.08)" font-size="20.0">30 Mo</text><text transform="translate(1506.39,1530.82) scale(0.9,1.0)" font-size="16.5" fill="#a0a0a0">35</text><text transform="translate(1360.3,1574.5) scale(1,1.08)" font-size="20.0">31 Di</text><text transform="translate(1546.3,264.18) scale(1,1.08)" font-size="20.0">1 Mi</text><text transform="translate(1679.08,264.18) scale(0.9,1.0)" font-size="16.5" fill="#a0a0a0">35</text><text transform="translate(1546.3,307.85) scale(1,1.08)" font-size="20.0">2 Do</text><text transform="translate(1546.3,351.53) scale(1,1.08)" font-size="20.0">3 Fr</text><text transform="translate(1546.3,395.21) scale(1,1.08)" font-size="20.0">4 Sa</text><text transform="translate(1546.3,438.89) scale(1,1.08)" font-size="20.0">5 So</text><text transform="translate(1546.3,482.56) scale(1,1.08)" font-size="20.0">6 Mo</text><text transform="translate(1685.76,482.56) scale(0.9,1.0)" font-size="16.5" fill="#a0a0a0">36</text><text transform="translate(1546.3,526.24) scale(1,1.08)" font-size="20.0">7 Di</text><text transform="translate(1546.3,569.92) scale(1,1.08)" font-size="20.0">8 Mi</text><text transform="translate(1546.3,613.6) scale(1,1.08)" font-size="20.0">9 Do</text><text transform="translate(1546.3,657.27) scale(1,1.08)" font-size="20.0">10 Fr</text><text transform="translate(1546.3,700.95) scale(1,1.08)" font-size="20.0">11 Sa</text><text transform="translate(1546.3,744.63) scale(1,1.08)" font-size="20.0">12 So</text><text transform="translate(1546.3,788.31) scale(1,1.08)" font-size="20.0">13 Mo</text><text transform="translate(1692.39,788.31) scale(0.9,1.0)" font-size="16.5" fill="#a0a0a0">37</text><text transform="translate(1546.3,831.98) scale(1,1.08)" font-size="20.0">14 Di</text><text transform="translate(1546.3,875.66) scale(1,1.08)" font-size="20.0">15 Mi</text><text transform="translate(1546.3,919.34) scale(1,1.08)" font-size="20.0">16 Do</text><text transform="translate(1546.3,963.02) scale(1,1.08)" font-size="20.0">17 Fr</text><text transform="translate(1546.3,1006.69) scale(1,1.08)" font-size="20.0">18 Sa</text><text transform="translate(1546.3,1050.37) scale(1,1.08)" font-size="20.0">19 So</text><text transform="translate(1546.3,1094.05) scale(1,1.08)" font-size="20.0">20 Mo</text><text transform="translate(1692.39,1094.05) scale(0.9,1.0)" font-size="16.5" fill="#a0a0a0">38</text><text transform="translate(1546.3,1137.73) scale(1,1.08)" font-size="20.0">21 Di</text><text transform="translate(1546.3,1181.4) scale(1,1.08)" font-size="20.0">22 Mi</text><text transform="translate(1546.3,1225.08) scale(1,1.08)" font-size="20.0">23 Do</text><text transform="translate(1546.3,1268.76) scale(1,1.08)" font-size="20.0">24 Fr</text><text transform="translate(1546.3,1312.44) scale(1,1.08)" font-size="20.0">25 Sa</text><text transform="translate(1546.3,1356.11) scale(1,1.08)" font-size="20.0">26 So</text><text transform="translate(1546.3,1399.79) scale(1,1.08)" font-size="20.0">27 Mo</text><text transform="translate(1692.39,1399.79) scale(0.9,1.0)" font-size="16.5" fill="#a0a0a0">39</text><text transform="translate(1546.3,1443.47) scale(1,1.08)" font-size="20.0">28 Di</text><text transform="translate(1546.3,1487.15) scale(1,1.08)" font-size="20.0">29 Mi</text><text transform="translate(1546.3,1530.82) scale(1,1.08)" font-size="20.0">30 Do</text><text transform="translate(1733.3,264.18) scale(1,1.08)" font-size="20.0">1 Fr</text><text transform="translate(1863.86,264.18) scale(0.9,1.0)" font-size="16.5" fill="#a0a0a0">39</text><text transform="translate(1733.3,307.85) scale(1,1.08)" font-size="20.0">2 Sa</text><text transform="translate(1733.3,351.53) scale(1,1.08)" font-size="20.0" font-weight="bold" fill="#f00">3 So</text><text transform="translate(1733.3,395.21) scale(1,1.08)" font-size="20.0">4 Mo</text><text transform="translate(1872.76,395.21) scale(0.9,1.0)" font-size="16.5" fill="#a0a0a0">40</text><text transform="translate(1733.3,438.89) scale(1,1.08)" font-size="20.0">5 Di</text><text transform="translate(1733.3,482.56) scale(1,1.08)" font-size="20.0">6 Mi</text><text transform="translate(1733.3,526.24) scale(1,1.08)" font-size="20.0">7 Do</text><text transform="translate(1733.3,569.92) scale(1,1.08)" font-size="20.0">8 Fr</text><text transform="translate(1733.3,613.6) scale(1,1.08)" font-size="20.0">9 Sa</text><text transform="translate(1733.3,657.27) scale(1,1.08)" font-size="20.0">10 So</text><text transform="translate(1733.3,700.95) scale(1,1.08)" font-size="20.0">11 Mo</text><text transform="translate(1879.39,700.95) scale(0.9,1.0)" font-size="16.5" fill="#a0a0a0">41</text><text transform="translate(1733.3,744.63) scale(1,1.08)" font-size="20.0">12 Di</text><text transform="translate(1733.3,788.31) scale(1,1.08)" font-size="20.0">13 Mi</text><text transform="translate(1733.3,831.98) scale(1,1.08)" font-size="20.0">14 Do</text><text transform="translate(1733.3,875.66) scale(1,1.08)" font-size="20.0">15 Fr</text><text transform="translate(1733.3,919.34) scale(1,1.08)" font-size="20.0">16 Sa</text><text transform="translate(1733.3,963.02) scale(1,1.08)" font-size="20.0">17 So</text><text transform="translate(1733.3,1006.69) scale(1,1.08)" font-size="20.0">18 Mo</text><text transform="translate(1879.39,1006.69) scale(0.9,1.0)" font-size="16.5" fill="#a0a0a0">42</text><text transform="translate(1733.3,1050.37) scale(1,1.08)" font-size="20.0">19 Di</text><text transform="translate(1733.3,1094.05) scale(1,1.08)" font-size="20.0">20 Mi</text><text transform="translate(1733.3,1137.73) scale(1,1.08)" font-size="20.0">21 Do</text><text transform="translate(1733.3,1181.4) scale(1,1.08)" font-size="20.0">22 Fr</text><text transform="translate(1733.3,1225.08) scale(1,1.08)" font-size="20.0">23 Sa</text><text transform="translate(1733.3,1268.76) scale(1,1.08)" font-size="20.0">24 So</text><text transform="translate(1733.3,1312.44) scale(1,1.08)" font-size="20.0">25 Mo</text><text transform="translate(1879.39,1312.44) scale(0.9,1.0)" font-size="16.5" fill="#a0a0a0">43</text><text transform="translate(1733.3,1356.11) scale(1,1.08)" font-size="20.0">26 Di</text><text transform="translate(1733.3,1399.79) scale(1,1.08)" font-size="20.0">27 Mi</text><text transform="translate(1733.3,1443.47) scale(1,1.08)" font-size="20.0">28 Do</text><text transform="translate(1733.3,1487.15) scale(1,1.08)" font-size="20.0">29 Fr</text><text transform="translate(1733.3,1530.82) scale(1,1.08)" font-size="20.0">30 Sa</text><text transform="translate(1733.3,1574.5) scale(1,1.08)" font-size="20.0">31 So</text><text transform="translate(1920.3,264.18) scale(1,1.08)" font-size="20.0">1 Mo</text><text transform="translate(2059.76,264.18) scale(0.9,1.0)" font-size="16.5" fill="#a0a0a0">44</text><text transform="translate(1920.3,307.85) scale(1,1.08)" font-size="20.0">2 Di</text><text transform="translate(1920.3,351.53) scale(1,1.08)" font-size="20.0">3 Mi</text><text transform="translate(1920.3,395.21) scale(1,1.08)" font-size="20.0">4 Do</text><text transform="translate(1920.3,438.89) scale(1,1.08)" font-size="20.0">5 Fr</text><text transform="translate(1920.3,482.56) scale(1,1.08)" font-size="20.0">6 Sa</text><text transform="translate(1920.3,526.24) scale(1,1.08)" font-size="20.0" fill="#fff">7 So</text><text transform="translate(1920.3,569.92) scale(1,1.08)" font-size="20.0">8 Mo</text><text transform="translate(2059.76,569.92) scale(0.9,1.0)" font-size="16.5" fill="#a0a0a0">45</text><text transform="translate(1920.3,613.6) scale(1,1.08)" font-size="20.0">9 Di</text><text transform="translate(1920.3,657.27) scale(1,1.08)" font-size="20.0">10 Mi</text><text transform="translate(1920.3,700.95) scale(1,1.08)" font-size="20.0">11 Do</text><text transform="translate(1920.3,744.63) scale(1,1.08)" font-size="20.0">12 Fr</text><text transform="translate(1920.3,788.31) scale(1,1.08)" font-size="20.0">13 Sa</text><text transform="translate(1920.3,831.98) scale(1,1.08)" font-size="20.0" fill="#fff">14 So</text><text transform="translate(1920.3,875.66) scale(1,1.08)" font-size="20.0">15 Mo</text><text transform="translate(2066.39,875.66) scale(0.9,1.0)" font-size="16.5" fill="#a0a0a0">46</text><text transform="translate(1920.3,919.34) scale(1,1.08)" font-size="20.0">16 Di</text><text transform="translate(1920.3,963.02) scale(1,1.08)" font-size="20.0">17 Mi</text><text transform="translate(1920.3,1006.69) scale(1,1.08)" font-size="20.0">18 Do</text><text transform="translate(1920.3,1050.37) scale(1,1.08)" font-size="20.0">19 Fr</text><text transform="translate(1920.3,1094.05) scale(1,1.08)" font-size="20.0">20 Sa</text><text transform="translate(1920.3,1137.73) scale(1,1.08)" font-size="20.0" fill="#fff">21 So</text><text transform="translate(1920.3,1181.4) scale(1,1.08)" font-size="20.0">22 Mo</text><text transform="translate(2066.39,1181.4) scale(0.9,1.0)" font-size="16.5" fill="#a0a0a0">47</text><text transform="translate(1920.3,1225.08) scale(1,1.08)" font-size="20.0">23 Di</text><text transform="translate(1920.3,1268.76) scale(1,1.08)" font-size="20.0">24 Mi</text><text transform="translate(1920.3,1312.44) scale(1,1.08)" font-size="20.0">25 Do</text><text transform="translate(1920.3,1356.11) scale(1,1.08)" font-size="20.0">26 Fr</text><text transform="translate(1920.3,1399.79) scale(1,1.08)" font-size="20.0">27 Sa</text><text transform="translate(1920.3,1443.47) scale(1,1.08)" font-size="20.0" fill="#fff">28 So</text><text transform="translate(1920.3,1487.15) scale(1,1.08)" font-size="20.0">29 Mo</text><text transform="translate(2066.39,1487.15) scale(0.9,1.0)" font-size="16.5" fill="#a0a0a0">48</text><text transform="translate(1920.3,1530.82) scale(1,1.08)" font-size="20.0">30 Di</text><text transform="translate(2106.3,264.18) scale(1,1.08)" font-size="20.0">1 Mi</text><text transform="translate(2239.08,264.18) scale(0.9,1.0)" font-size="16.5" fill="#a0a0a0">48</text><text transform="translate(2106.3,307.85) scale(1,1.08)" font-size="20.0">2 Do</text><text transform="translate(2106.3,351.53) scale(1,1.08)" font-size="20.0">3 Fr</text><text transform="translate(2106.3,395.21) scale(1,1.08)" font-size="20.0">4 Sa</text><text transform="translate(2106.3,438.89) scale(1,1.08)" font-size="20.0" fill="#fff">5 So</text><text transform="translate(2106.3,482.56) scale(1,1.08)" font-size="20.0">6 Mo</text><text transform="translate(2245.76,482.56) scale(0.9,1.0)" font-size="16.5" fill="#a0a0a0">49</text><text transform="translate(2106.3,526.24) scale(1,1.08)" font-size="20.0">7 Di</text><text transform="translate(2106.3,569.92) scale(1,1.08)" font-size="20.0">8 Mi</text><text transform="translate(2106.3,613.6) scale(1,1.08)" font-size="20.0">9 Do</text><text transform="translate(2106.3,657.27) scale(1,1.08)" font-size="20.0">10 Fr</text><text transform="translate(2106.3,700.95) scale(1,1.08)" font-size="20.0">11 Sa</text><text transform="translate(2106.3,744.63) scale(1,1.08)" font-size="20.0" fill="#fff">12 So</text><text transform="translate(2106.3,788.31) scale(1,1.08)" font-size="20.0">13 Mo</text><text transform="translate(2252.39,788.31) scale(0.9,1.0)" font-size="16.5" fill="#a0a0a0">50</text><text transform="translate(2106.3,831.98) scale(1,1.08)" font-size="20.0">14 Di</text><text transform="translate(2106.3,875.66) scale(1,1.08)" font-size="20.0">15 Mi</text><text transform="translate(2106.3,919.34) scale(1,1.08)" font-size="20.0">16 Do</text><text transform="translate(2106.3,963.02) scale(1,1.08)" font-size="20.0">17 Fr</text><text transform="translate(2106.3,1006.69) scale(1,1.08)" font-size="20.0">18 Sa</text><text transform="translate(2106.3,1050.37) scale(1,1.08)" font-size="20.0" fill="#fff">19 So</text><text transform="translate(2106.3,1094.05) scale(1,1.08)" font-size="20.0">20 Mo</text><text transform="translate(2252.39,1094.05) scale(0.9,1.0)" font-size="16.5" fill="#a0a0a0">51</text><text transform="translate(2106.3,1137.73) scale(1,1.08)" font-size="20.0">21 Di</text><text transform="translate(2106.3,1181.4) scale(1,1.08)" font-size="20.0">22 Mi</text><text transform="translate(2106.3,1225.08) scale(1,1.08)" font-size="20.0">23 Do</text><text transform="translate(2106.3,1268.76) scale(1,1.08)" font-size="20.0">24 Fr</text><text transform="translate(2106.3,1312.44) scale(1,1.08)" font-size="20.0" font-weight="bold" fill="#f00">25 Sa</text><text transform="translate(2106.3,1356.11) scale(1,1.08)" font-size="20.0" font-weight="bold" fill="#f00">26 So</text><text transform="translate(2106.3,1399.79) scale(1,1.08)" font-size="20.0">27 Mo</text><text transform="translate(2252.39,1399.79) scale(0.9,1.0)" font-size="16.5" fill="#a0a0a0">52</text><text transform="translate(2106.3,1443.47) scale(1,1.08)" font-size="20.0">28 Di</text><text transform="translate(2106.3,1487.15) scale(1,1.08)" font-size="20.0">29 Mi</text><text transform="translate(2106.3,1530.82) scale(1,1.08)" font-size="20.0">30 Do</text><text transform="translate(2106.3,1574.5) scale(1,1.08)" font-size="20.0">31 Fr</text></svg></body></html>
